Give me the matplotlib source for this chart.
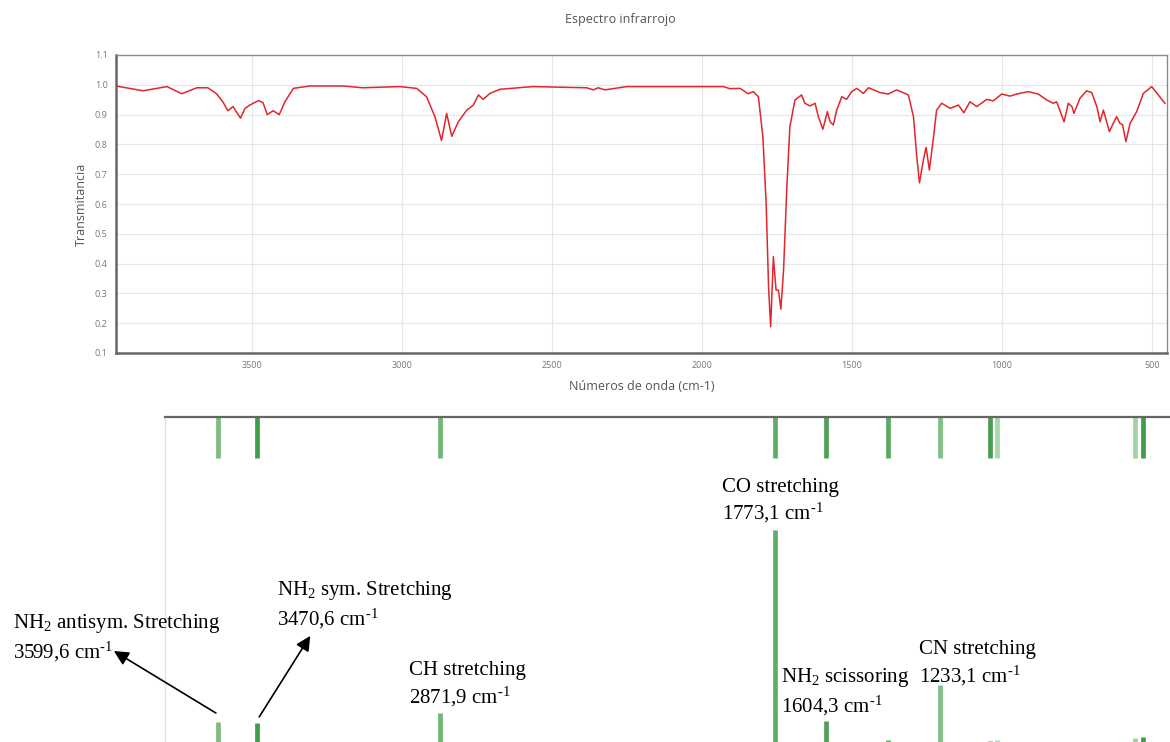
import numpy as np
import matplotlib.pyplot as plt

plt.rcParams['mathtext.fontset'] = 'custom'
plt.rcParams['mathtext.rm'] = 'Liberation Serif'
plt.rcParams['mathtext.it'] = 'Liberation Serif:italic'

# measured IR spectrum (wavenumber cm-1, transmittance)
wavenumber = [3953, 3863, 3783, 3734, 3684, 3647, 3618, 3597, 3580, 3563, 3538,
              3523, 3507, 3478, 3463, 3449, 3429, 3409, 3390, 3362, 3307, 3196,
              3130, 3007, 2951, 2918, 2890, 2868, 2851, 2834, 2812, 2784, 2762,
              2745, 2729, 2707, 2673, 2563, 2384, 2362, 2346, 2323, 2251, 2007,
              1929, 1907, 1873, 1846, 1829, 1812, 1797, 1786, 1778, 1771, 1762,
              1753, 1745, 1737, 1728, 1717, 1707, 1690, 1668, 1657, 1640, 1623,
              1612, 1597, 1582, 1573, 1562, 1551, 1534, 1518, 1501, 1484, 1462,
              1445, 1407, 1379, 1351, 1312, 1295, 1284, 1275, 1262, 1253, 1242,
              1228, 1218, 1201, 1173, 1145, 1127, 1107, 1084, 1051, 1029, 1001,
              973, 951, 912, 879, 851, 829, 818, 793, 779, 767, 760, 740, 718,
              701, 684, 673, 662, 642, 629, 618, 607, 598, 587, 573, 551, 529,
              501, 479, 457]
transmittance = [0.996, 0.980, 0.994, 0.970, 0.990, 0.990, 0.970, 0.943, 0.913,
                 0.927, 0.888, 0.921, 0.932, 0.947, 0.940, 0.900, 0.913, 0.900,
                 0.943, 0.988, 0.996, 0.996, 0.990, 0.994, 0.988, 0.960, 0.893,
                 0.813, 0.904, 0.827, 0.876, 0.915, 0.932, 0.966, 0.951, 0.971,
                 0.985, 0.994, 0.990, 0.983, 0.990, 0.983, 0.994, 0.994, 0.994,
                 0.987, 0.988, 0.970, 0.977, 0.960, 0.826, 0.602, 0.322, 0.188,
                 0.423, 0.311, 0.311, 0.247, 0.378, 0.658, 0.859, 0.949, 0.966,
                 0.938, 0.929, 0.938, 0.893, 0.851, 0.910, 0.876, 0.865, 0.915,
                 0.960, 0.951, 0.977, 0.988, 0.971, 0.990, 0.974, 0.969, 0.983,
                 0.966, 0.893, 0.759, 0.671, 0.748, 0.790, 0.714, 0.826, 0.915,
                 0.938, 0.921, 0.932, 0.906, 0.943, 0.927, 0.951, 0.946, 0.969,
                 0.962, 0.969, 0.977, 0.969, 0.949, 0.938, 0.943, 0.876, 0.938,
                 0.927, 0.904, 0.955, 0.980, 0.974, 0.927, 0.876, 0.915, 0.843,
                 0.871, 0.893, 0.871, 0.866, 0.809, 0.871, 0.910, 0.971, 0.994,
                 0.966, 0.938]

# computed vibrational modes (stick spectrum)
mode_wn = [3599.6, 3470.6, 2871.9, 1773.1, 1604.3, 1403.0, 1233.1, 1068.0,
           1045.0, 593.0, 567.0]
mode_int = [9.4, 9.0, 13.7, 100, 10, 1.0, 27, 0.5, 1.0, 2.0, 2.4]
mode_colors = ['#7dbb80', '#3f9c4a', '#6db872', '#5fae65', '#4f9f56', '#5aaa60',
               '#80c084', '#4a9e52', '#a8d8aa', '#9fd3a2', '#3f9c4a']

unit = r' cm$^{\text{-1}}$'
labels = [
    (3599.6, 'NH$_2$ antisym. Stretching\n3599,6' + unit),
    (3470.6, 'NH$_2$ sym. Stretching\n3470,6' + unit),
    (2871.9, 'CH stretching\n2871,9' + unit),
    (1773.1, 'CO stretching\n1773,1' + unit),
    (1604.3, 'NH$_2$ scissoring\n1604,3' + unit),
    (1233.1, 'CN stretching\n1233,1' + unit),
]
# label offsets from bar tops, in pixels
label_offsets = [(-205, 84), (20, 118), (-31, 28), (-53, 28), (-45, 29), (-21, 21)]

W, H = 1170, 742
fig = plt.figure(figsize=(W / 100, H / 100), dpi=100)

# ---- top: measured spectrum
ax = fig.add_axes([116 / W, 1 - 353 / H, (1167 - 116) / W, (353 - 55) / H])
ax.plot(wavenumber, transmittance, color='#e3262b', lw=1.1)
ax.set_xlim(3953, 450)
ax.set_ylim(0.1, 1.1)
ax.set_xticks([3500, 3000, 2500, 2000, 1500, 1000, 500])
ax.set_yticks(np.round(np.arange(0.1, 1.11, 0.1), 1))
ax.set_yticklabels([f'{v:.1f}' for v in np.arange(0.1, 1.11, 0.1)])
ax.grid(True, color='#e6e6e6', lw=0.8)
ax.tick_params(length=0, labelsize=6.5, labelcolor='#777777', pad=6)
for lab in ax.get_xticklabels() + ax.get_yticklabels():
    lab.set_family('Open Sans')
for s in ax.spines.values():
    s.set_color('#8a8a8a')
    s.set_linewidth(1.0)
ax.spines['left'].set_linewidth(1.8)
ax.spines['bottom'].set_linewidth(1.8)
ax.spines['left'].set_color('#666666')
ax.spines['bottom'].set_color('#666666')
ax.set_xlabel('Números de onda (cm-1)', fontsize=9, color='#555555',
              family='Open Sans', labelpad=7)
ax.set_ylabel('Transmitancia', fontsize=9, color='#555555',
              family='Open Sans', labelpad=5)
fig.text(620 / W, 1 - 20 / H, 'Espectro infrarrojo', fontsize=9,
         color='#555555', family='Open Sans', ha='center', va='center')

# ---- bottom: computed modes
bx = fig.add_axes([165 / W, 0, 1 - 165 / W, 1 - 417 / H])
bx.set_xlim(3773, 478)
bx.set_ylim(0, 153)
bx.vlines(mode_wn, 0, mode_int, colors=mode_colors, lw=3.4)
bx.vlines(mode_wn, 1 - 41 / 325, 1, colors=mode_colors, lw=3.4,
          transform=bx.get_xaxis_transform())
bx.set_xticks([])
bx.set_yticks([])
for side in ['right', 'bottom']:
    bx.spines[side].set_visible(False)
bx.spines['top'].set_color('#666666')
bx.spines['top'].set_linewidth(1.6)
bx.spines['left'].set_color('#e2e2e2')
bx.spines['left'].set_linewidth(1.0)

height = dict(zip(mode_wn, mode_int))
for (wn, txt), (dx, dy) in zip(labels, label_offsets):
    bx.annotate(txt, xy=(wn, height[wn]), xytext=(dx, dy),
                textcoords='offset pixels', ha='left', va='center',
                fontsize=15, family='Liberation Serif', linespacing=1.25,
                annotation_clip=False)

# arrows pointing from bars to the two NH2 stretching labels
arrows = [(3599.6, (-2, 9), (-104, 71)), (3470.6, (2, 6), (53, 87))]
for wn, tail, head in arrows:
    tail_pt = bx.transData.transform((wn, height[wn])) + np.array(tail)
    head_pt = bx.transData.transform((wn, height[wn])) + np.array(head)
    bx.annotate('', xy=head_pt, xycoords='figure pixels',
                xytext=tail_pt, textcoords='figure pixels',
                arrowprops=dict(arrowstyle='-|>', color='black', lw=1.2,
                                mutation_scale=22, shrinkA=0, shrinkB=0),
                annotation_clip=False)

fig.savefig('out.png', dpi=100)
